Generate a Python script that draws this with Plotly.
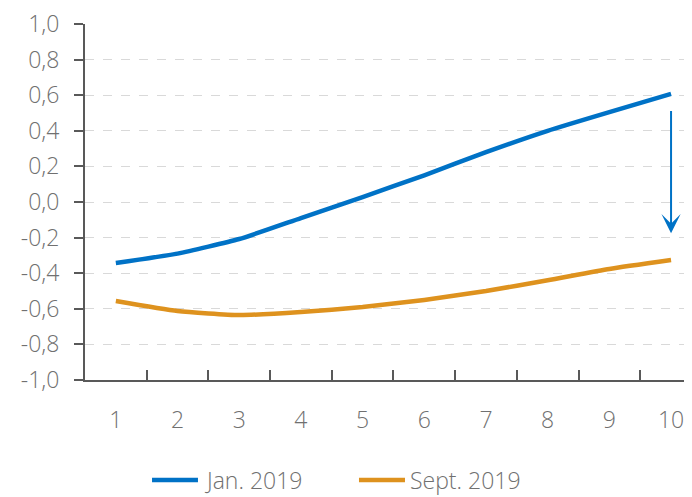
import plotly.graph_objects as go

categories = ["1", "2", "3", "4", "5", "6", "7", "8", "9", "10"]
jan_2019 = [-0.343, -0.29, -0.208, -0.09, 0.028, 0.15, 0.28, 0.40, 0.505, 0.607]
sept_2019 = [-0.556, -0.612, -0.635, -0.618, -0.59, -0.55, -0.50, -0.44, -0.376, -0.326]
series_names = ["Jan. 2019", "Sept. 2019"]
y_ticks = [-1.0, -0.8, -0.6, -0.4, -0.2, 0.0, 0.2, 0.4, 0.6, 0.8, 1.0]
y_tick_labels = ["-1,0", "-0,8", "-0,6", "-0,4", "-0,2", "0,0", "0,2", "0,4", "0,6", "0,8", "1,0"]
arrow_x = 9.0
arrow_from = 0.52
arrow_to = -0.175

BLUE = "rgb(0,114,198)"
ORANGE = "rgb(222,146,30)"
COLORS = [BLUE, ORANGE]
TEXT = "#707070"
FONT = "Open Sans"

fig = go.Figure()
for name, vals, col in zip(series_names, [jan_2019, sept_2019], COLORS):
    fig.add_trace(go.Scatter(x=categories, y=vals, mode="lines", name=name,
                             line=dict(color=col, width=4.5, shape="spline", smoothing=0.5)))

fig.add_annotation(x=arrow_x, y=arrow_to, ax=arrow_x, ay=arrow_from, xref="x", yref="y",
                   axref="x", ayref="y", showarrow=True, arrowhead=3, arrowsize=1.6,
                   arrowwidth=2, arrowcolor=BLUE, text="")

# custom legend (long line samples as in the reference)
legend_y = -0.281
legend_items = [(0.1119, 0.1886, 0.1953), (0.4574, 0.5342, 0.5392)]
for (x0, x1, xt), name, col in zip(legend_items, series_names, COLORS):
    fig.add_shape(type="line", xref="paper", yref="paper", x0=x0, x1=x1, y0=legend_y, y1=legend_y,
                  line=dict(color=col, width=4.5))
    fig.add_annotation(xref="paper", yref="paper", x=xt, y=legend_y, text=name, showarrow=False,
                       xanchor="left", yanchor="middle",
                       font=dict(family=FONT, size=23, color=TEXT, weight=300))

fig.update_layout(
    width=676, height=489,
    margin=dict(l=77, r=0, t=16, b=117, autoexpand=False),
    paper_bgcolor="white", plot_bgcolor="white",
    font=dict(family=FONT, size=23, color=TEXT, weight=300),
    showlegend=False,
)
fig.update_xaxes(type="category", range=[-0.5, 9.21], showline=True, linecolor="#595959",
                 linewidth=2, ticks="inside", tickson="boundaries", ticklen=10, tickwidth=2,
                 tickcolor="#595959", showgrid=False, ticklabelstandoff=18, automargin=False,
                 ticklabeloverflow="allow",
                 tickfont=dict(family=FONT, size=23, color=TEXT, weight=300))
fig.update_yaxes(range=[-1.0, 1.0], tickvals=y_ticks, ticktext=y_tick_labels, showline=True,
                 linecolor="#595959", linewidth=2, ticks="outside", ticklen=9, tickwidth=2,
                 tickcolor="#595959", showgrid=True, gridcolor="#d9d9d9", griddash="dash",
                 gridwidth=1.3, zeroline=False, ticklabelstandoff=10, automargin=False,
                 ticklabeloverflow="allow",
                 tickfont=dict(family=FONT, size=23, color=TEXT, weight=300))

fig.write_html("out.html")
